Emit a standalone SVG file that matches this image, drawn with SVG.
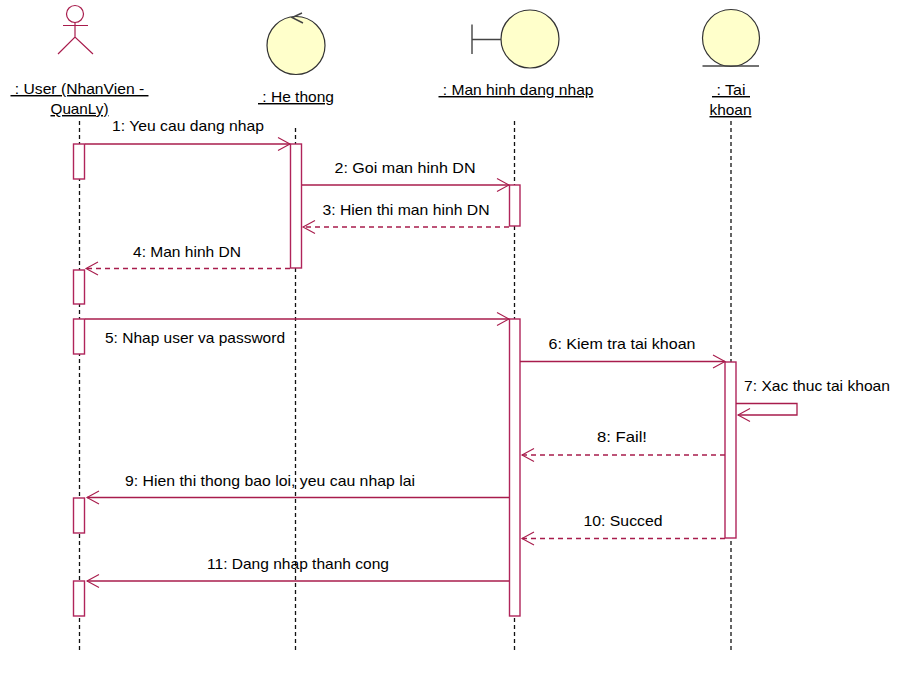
<svg xmlns="http://www.w3.org/2000/svg" width="915" height="673" viewBox="0 0 915 673">
<style>
text{font-family:"Liberation Sans",Arial,sans-serif;font-size:14.5px;fill:#000;text-anchor:middle}
.u{text-decoration:underline}
.ball{fill:#ffffcb;stroke:#333;stroke-width:1.2}
.ink{fill:none;stroke:#444;stroke-width:1.4}
.actor{fill:none;stroke:#a81c4c;stroke-width:1.2}
.life{stroke:#111;stroke-width:1.3;stroke-dasharray:4 3;fill:none}
.bar{fill:#fff;stroke:#b0245a;stroke-width:1.4}
.msg{fill:none;stroke:#a81c4c;stroke-width:1.3;marker-end:url(#head)}
.ret{stroke-dasharray:5 4}
</style>
<defs>
<marker id="head" markerUnits="userSpaceOnUse" markerWidth="16" markerHeight="16" refX="13" refY="8" orient="auto">
<path d="M1 1.5 L13 8 L1 14.5" fill="none" stroke="#a81c4c" stroke-width="1.1"/>
</marker>
</defs>
<g id="lifelines">
<path class="life" d="M79.5 121V650"/>
<path class="life" d="M295.5 128V650"/>
<path class="life" d="M514.5 121V650"/>
<path class="life" d="M731 121V650"/>
</g>
<g id="node-user">
<circle class="actor" cx="75" cy="14" r="8.5"/>
<path class="actor" d="M63 25.500H88M75 22.500V37M58 54L75 37L93 54"/>
<text class="u" x="79.500" y="94" textLength="138" lengthAdjust="spacingAndGlyphs" xml:space="preserve"> : User (NhanVien - </text>
<text class="u" x="79.500" y="114" textLength="58" lengthAdjust="spacingAndGlyphs">QuanLy)</text>
</g>
<g id="node-he-thong">
<circle class="ball" cx="296" cy="45.500" r="29"/>
<path class="ink" d="M302 13L292 17.500L303 23"/>
<text class="u" x="296" y="102" textLength="76" lengthAdjust="spacingAndGlyphs" xml:space="preserve"> : He thong</text>
</g>
<g id="node-man-hinh">
<circle class="ball" cx="530" cy="39" r="29"/>
<path class="ink" d="M472 24.500V54M472 39.500H501"/>
<text class="u" x="516" y="95" textLength="155" lengthAdjust="spacingAndGlyphs" xml:space="preserve"> : Man hinh dang nhap</text>
</g>
<g id="node-tai-khoan">
<circle class="ball" cx="731" cy="38" r="28.500"/>
<path class="ink" d="M702.500 66H759"/>
<text class="u" x="731" y="95" textLength="38" lengthAdjust="spacingAndGlyphs" xml:space="preserve"> : Tai </text>
<text class="u" x="730.500" y="115" textLength="42" lengthAdjust="spacingAndGlyphs">khoan</text>
</g>
<g id="activations">
<rect class="bar" x="73.500" y="144" width="11" height="35"/>
<rect class="bar" x="73.500" y="270" width="11" height="34"/>
<rect class="bar" x="73.500" y="319" width="11" height="35"/>
<rect class="bar" x="73.500" y="498" width="11" height="35"/>
<rect class="bar" x="73.500" y="581" width="11" height="35"/>
<rect class="bar" x="290.500" y="144" width="11" height="124"/>
<rect class="bar" x="509.500" y="185" width="10.500" height="41"/>
<rect class="bar" x="509.500" y="319" width="10.500" height="297"/>
<rect class="bar" x="725" y="362" width="11" height="176"/>
</g>
<g id="connectors">
<path class="msg" d="M85 144H290"/>
<path class="msg" d="M302 185H509"/>
<path class="msg ret" d="M509 227H303"/>
<path class="msg ret" d="M290 268.500H86"/>
<path class="msg" d="M85 319H509"/>
<path class="msg" d="M520 361.500H725"/>
<path class="msg" d="M736 403.500H797V415H738"/>
<path class="msg ret" d="M725 455H522"/>
<path class="msg" d="M509 497.500H87"/>
<path class="msg ret" d="M725 538.500H522"/>
<path class="msg" d="M509 581H87"/>
</g>
<g id="labels">
<text x="188" y="131" textLength="152" lengthAdjust="spacingAndGlyphs">1: Yeu cau dang nhap</text>
<text x="405" y="173" textLength="141" lengthAdjust="spacingAndGlyphs">2: Goi man hinh DN</text>
<text x="406" y="215" textLength="167" lengthAdjust="spacingAndGlyphs">3: Hien thi man hinh DN</text>
<text x="187" y="257" textLength="108" lengthAdjust="spacingAndGlyphs">4: Man hinh DN</text>
<text x="195" y="343" textLength="180" lengthAdjust="spacingAndGlyphs">5: Nhap user va password</text>
<text x="622" y="349" textLength="147" lengthAdjust="spacingAndGlyphs">6: Kiem tra tai khoan</text>
<text x="817" y="391" textLength="146" lengthAdjust="spacingAndGlyphs">7: Xac thuc tai khoan</text>
<text x="622" y="442" textLength="50" lengthAdjust="spacingAndGlyphs">8: Fail!</text>
<text x="270" y="486" textLength="290" lengthAdjust="spacingAndGlyphs">9: Hien thi thong bao loi, yeu cau nhap lai</text>
<text x="623" y="526" textLength="79" lengthAdjust="spacingAndGlyphs">10: Succed</text>
<text x="298" y="569" textLength="182" lengthAdjust="spacingAndGlyphs">11: Dang nhap thanh cong</text>
</g>
</svg>
